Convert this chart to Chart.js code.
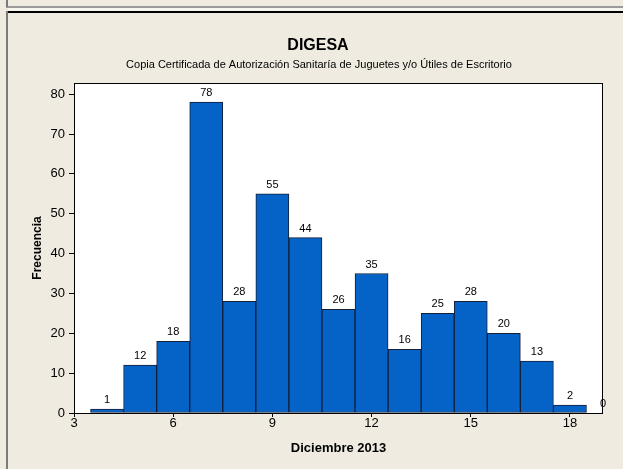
<!DOCTYPE html>
<html>
<head>
<meta charset="utf-8">
<script src="https://cdn.jsdelivr.net/npm/chart.js@4/dist/chart.umd.min.js"></script>
<style>
  html, body { margin: 0; padding: 0; background: #EFEBE1; }
  #wrap { width: 623px; height: 469px; position: relative; }
</style>
</head>
<body>
<div id="wrap"><canvas id="hist"></canvas></div>
<script>
// data
var binCenters = [4, 5, 6, 7, 8, 9, 10, 11, 12, 13, 14, 15, 16, 17, 18, 19];
var frequencies = [1, 12, 18, 78, 28, 55, 44, 26, 35, 16, 25, 28, 20, 13, 2, 0];
var xTicks = [3, 6, 9, 12, 15, 18];
var yTicks = [0, 10, 20, 30, 40, 50, 60, 70, 80];

var mainTitle = 'DIGESA';
var subTitle = 'Copia Certificada de Autorización Sanitaría de Juguetes y/o Útiles de Escritorio';

var FONT = "'Liberation Sans', 'DejaVu Sans', sans-serif";

// frame, plot box, titles and bar labels
var decorPlugin = {
    id: 'decor',
    beforeDraw: function(chart) {
        var ctx = chart.ctx, a = chart.chartArea;
        ctx.save();
        ctx.fillStyle = '#EFEBE1';
        ctx.fillRect(0, 0, chart.width, chart.height);
        ctx.fillStyle = '#F7F5F0';
        ctx.fillRect(8, 8, chart.width - 8, 3);
        ctx.fillStyle = '#9A9A9A';
        ctx.fillRect(6, 6, chart.width - 6, 2);
        ctx.fillStyle = '#000000';
        ctx.fillRect(6, 11, chart.width - 6, 2);
        ctx.fillStyle = '#7A7A7A';
        ctx.fillRect(6, 0, 2, 7);
        ctx.fillRect(6, 11, 2, chart.height - 11);
        ctx.fillStyle = '#FFFFFF';
        ctx.fillRect(a.left, a.top, a.right - a.left, a.bottom - a.top);
        ctx.restore();
    },
    afterDatasetsDraw: function(chart) {
        var ctx = chart.ctx, a = chart.chartArea;
        ctx.save();
        ctx.strokeStyle = '#000000';
        ctx.lineWidth = 1;
        ctx.strokeRect(a.left + 0.5, a.top + 0.5, a.right - a.left - 1, a.bottom - a.top);

        var xs = chart.scales.x, ys = chart.scales.y;
        ctx.fillStyle = '#000000';
        ctx.font = '11px ' + FONT;
        ctx.textAlign = 'center';
        ctx.textBaseline = 'alphabetic';
        for (var i = 0; i < binCenters.length; i++) {
            var px = xs.getPixelForValue(binCenters[i]);
            var py = ys.getPixelForValue(frequencies[i]);
            ctx.fillText(String(frequencies[i]), px, py - 6);
        }

        ctx.textBaseline = 'middle';
        ctx.font = 'bold 16px ' + FONT;
        ctx.fillText(mainTitle, 318, 46);
        ctx.font = '11px ' + FONT;
        ctx.fillText(subTitle, 319, 65);
        ctx.restore();
    }
};

var config = {
    type: 'bar',
    data: {
        datasets: [{
            data: binCenters.map(function(c, i) { return { x: c, y: frequencies[i] }; }),
            backgroundColor: '#0563C8',
            borderColor: '#141E36',
            borderWidth: 1,
            borderSkipped: false,
            barPercentage: 1.0,
            categoryPercentage: 1.0
        }]
    },
    options: {
        responsive: false,
        animation: false,
        layout: { padding: { top: 83, right: 20, left: 0, bottom: 0 } },
        plugins: {
            legend: { display: false },
            tooltip: { enabled: false }
        },
        scales: {
            x: {
                type: 'linear',
                min: 3,
                max: 19,
                offset: false,
                afterBuildTicks: function(s) { s.ticks = xTicks.map(function(v) { return { value: v }; }); },
                afterFit: function(s) { s.height = 56; },
                grid: { offset: false, drawOnChartArea: false, drawTicks: true, tickLength: 4, color: '#000000' },
                border: { display: false },
                ticks: { color: '#000000', padding: -1, font: { family: FONT, size: 13 }, maxRotation: 0 },
                title: {
                    display: true,
                    text: 'Diciembre 2013',
                    color: '#000000',
                    font: { family: FONT, size: 13, weight: 'bold' },
                    padding: { top: 0, bottom: 13 }
                }
            },
            y: {
                min: 0,
                max: 82.8,
                afterBuildTicks: function(s) { s.ticks = yTicks.map(function(v) { return { value: v }; }); },
                afterFit: function(s) { s.width = 74; },
                grid: { drawOnChartArea: false, drawTicks: true, tickLength: 5, color: '#000000' },
                border: { display: false },
                ticks: { color: '#000000', padding: 4, font: { family: FONT, size: 13 } },
                title: {
                    display: true,
                    text: 'Frecuencia',
                    color: '#000000',
                    font: { family: FONT, size: 12, weight: 'bold' },
                    padding: { top: 30, bottom: 0 }
                }
            }
        }
    },
    plugins: [decorPlugin]
};

var canvas = document.getElementById('hist');
canvas.width = 623;
canvas.height = 469;
window.histChart = new Chart(canvas.getContext('2d'), config);
</script>
</body>
</html>
